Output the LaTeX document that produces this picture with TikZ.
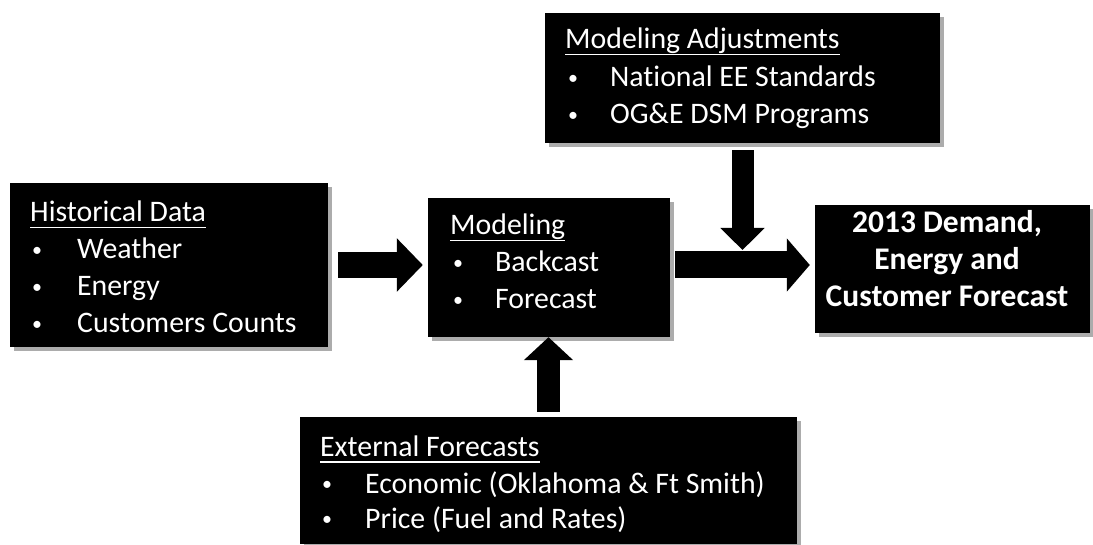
\documentclass[tikz,border=0pt]{standalone}
\usepackage{fontspec}
\setmainfont[Ligatures=NoCommon]{Carlito}
\usetikzlibrary{arrows.meta,shadows}
\newcommand\ulw[1]{\setbox0\hbox{#1}\rlap{\rule[-6.5pt]{\wd0}{1.8pt}}\box0}
\newcommand\bul{\raisebox{2.8pt}{\fontsize{20}{20}\selectfont •}}
\begin{document}
\begin{tikzpicture}[x=1pt,y=-1pt,
  box/.style={fill=black, draw=none, inner sep=0pt,
    drop shadow={shadow xshift=4pt,shadow yshift=-4pt,fill=gray!65,opacity=1}},
  txt/.style={text=white, inner sep=0pt, anchor=base west, font=\fontsize{29.8}{36}\selectfont},
  btxt/.style={text=white, inner sep=0pt, anchor=base, font=\bfseries\fontsize{31.5}{37}\selectfont},
  barrow/.style n args={3}{draw=black, line width=#1, line cap=butt,
    -{Triangle[width=#2,length=#3]}}]
\useasboundingbox (0,0) rectangle (1093,545);
% boxes
\node[box, minimum width=318pt, minimum height=164pt] (hist) at (169,265) {};
\node[box, minimum width=242pt, minimum height=139pt] (model) at (549,267.5) {};
\node[box, minimum width=395pt, minimum height=130pt] (adj) at (742.5,78) {};
\node[box, minimum width=275pt, minimum height=128pt] (out) at (952.5,269) {};
\node[box, minimum width=497pt, minimum height=127pt] (ext) at (548.5,480.5) {};
% Historical Data
\node[txt] (h0) at (30,222) {\ulw{Historical Data}};
\node[txt] (h1b) at (32,259) {\bul};
\node[txt] (h1) at (77,259) {Weather};
\node[txt] (h2b) at (32,296) {\bul};
\node[txt] (h2) at (77,296) {Energy};
\node[txt] (h3b) at (32,333) {\bul};
\node[txt] (h3) at (77,333) {Customers Counts};
% Modeling
\node[txt] (m0) at (450,235) {\ulw{Modeling}};
\node[txt] (m1b) at (453,272) {\bul};
\node[txt] (m1) at (495,272) {Backcast};
\node[txt] (m2b) at (453,309) {\bul};
\node[txt] (m2) at (495,309) {Forecast};
% Modeling Adjustments
\node[txt] (a0) at (565,49) {\ulw{Modeling Adjustments}};
\node[txt] (a1b) at (568,87) {\bul};
\node[txt] (a1) at (610,87) {National EE Standards};
\node[txt] (a2b) at (568,124) {\bul};
\node[txt] (a2) at (610,124) {OG\&E DSM Programs};
% External Forecasts
\node[txt] (e0) at (320,456) {\ulw{External Forecasts}};
\node[txt] (e1b) at (322,493) {\bul};
\node[txt] (e1) at (365,493) {Economic (Oklahoma \& Ft Smith)};
\node[txt] (e2b) at (322,528) {\bul};
\node[txt] (e2) at (365,528) {Price (Fuel and Rates)};
% Output
\node[btxt] (o1) at (947,233) {2013 Demand,};
\node[btxt] (o2) at (947,270) {Energy and};
\node[btxt] (o3) at (947,307) {Customer Forecast};
% arrows
\coordinate (join) at (742.5,250);
\draw[barrow={26pt}{52pt}{26pt}] ([xshift=10pt]hist.east) -- ([xshift=-5pt]hist.east -| model.west);
\draw[barrow={27pt}{52pt}{23pt}] ([xshift=5pt]model.east |- hist.east) -- ([xshift=-5pt]out.west |- hist.east);
\draw[barrow={22pt}{43pt}{22pt}] ([yshift=-7pt]adj.south) -- (adj.south |- join);
\draw[barrow={23pt}{48pt}{23pt}] ([yshift=5pt]ext.north) -- (ext.north |- model.south);
\end{tikzpicture}
\end{document}
